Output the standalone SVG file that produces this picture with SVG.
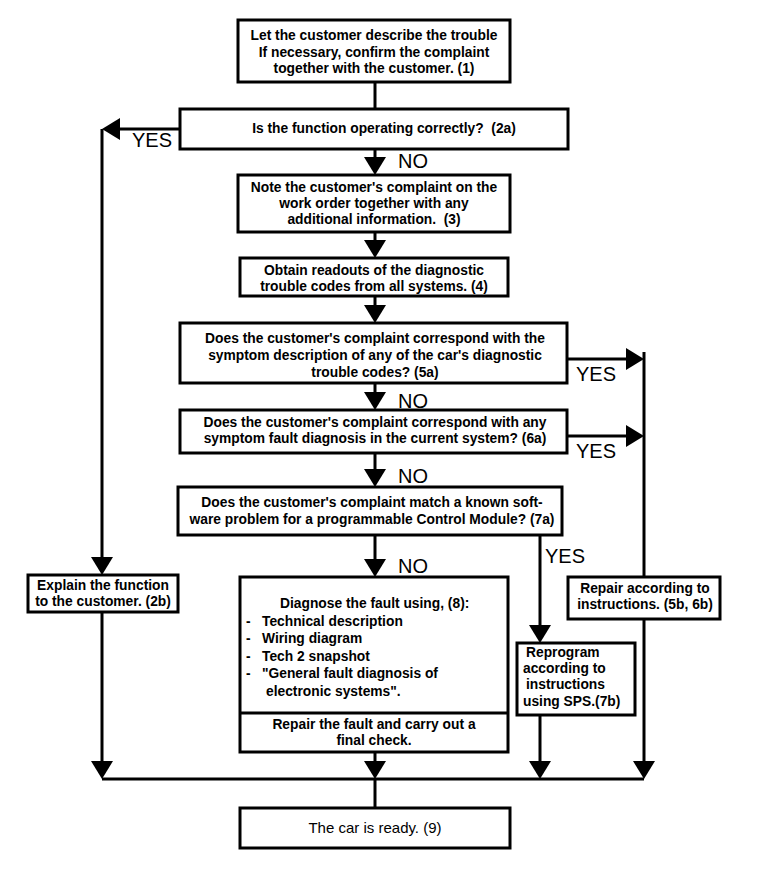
<svg xmlns="http://www.w3.org/2000/svg" width="768" height="876" viewBox="0 0 768 876">
<defs>
<style>
.box{fill:#fff;stroke:#000;stroke-width:3}
.ln{fill:none;stroke:#000;stroke-width:3}
.ar{fill:none;stroke:#000;stroke-width:3;marker-end:url(#ah)}
.t{font-family:"Liberation Sans",Arial,sans-serif;font-size:13.8px;font-weight:bold;fill:#000}
.c{text-anchor:middle}
.lab{font-family:"Liberation Sans",Arial,sans-serif;font-size:20px;fill:#000}
.r{font-family:"Liberation Sans",Arial,sans-serif;font-size:15px;fill:#000;text-anchor:middle}
</style>
<marker id="ah" markerUnits="userSpaceOnUse" markerWidth="18" markerHeight="22" viewBox="0 0 18 22" refX="12" refY="11" orient="auto">
<path d="M0,0 L18,11 L0,22 z" fill="#000"/>
</marker>
</defs>
<rect width="768" height="876" fill="#fff"/>

<g id="connectors">
<path class="ln" d="M375,82 V108"/>
<path class="ar" d="M180,129 H108"/>
<path class="ar" d="M102,129 V569"/>
<path class="ar" d="M375,150 V169"/>
<path class="ar" d="M375,232 V252"/>
<path class="ar" d="M375,296 V317"/>
<path class="ar" d="M567,359 H638"/>
<path class="ln" d="M644,352 V577"/>
<path class="ar" d="M375,383 V404"/>
<path class="ar" d="M567,436 H638"/>
<path class="ar" d="M375,453 V481"/>
<path class="ar" d="M375,535 V571"/>
<path class="ar" d="M540,535 V637"/>
<path class="ar" d="M102,612 V773"/>
<path class="ar" d="M375,752 V773"/>
<path class="ar" d="M540,715 V773"/>
<path class="ar" d="M644,619 V773"/>
<path class="ln" d="M102,779 H644"/>
<path class="ln" d="M375,779 V808"/>
<text class="lab" x="132" y="147">YES</text>
<text class="lab" x="398" y="168">NO</text>
<text class="lab" x="576" y="381">YES</text>
<text class="lab" x="398" y="408">NO</text>
<text class="lab" x="576" y="458">YES</text>
<text class="lab" x="398" y="483">NO</text>
<text class="lab" x="545" y="563">YES</text>
<text class="lab" x="398" y="573">NO</text>
</g>

<g id="n1">
<rect class="box" x="238" y="20" width="272" height="62"/>
<text class="t c" x="374" y="40">Let the customer describe the trouble</text>
<text class="t c" x="374" y="57">If necessary, confirm the complaint</text>
<text class="t c" x="374" y="73">together with the customer. (1)</text>
</g>

<g id="n2a">
<rect class="box" x="180" y="109" width="388" height="40"/>
<text class="t c" x="384" y="133">Is the function operating correctly?&#160; (2a)</text>
</g>

<g id="n3">
<rect class="box" x="238" y="175" width="272" height="57"/>
<text class="t c" x="374" y="192">Note the customer's complaint on the</text>
<text class="t c" x="374" y="208">work order together with any</text>
<text class="t c" x="374" y="224">additional information.&#160; (3)</text>
</g>

<g id="n4">
<rect class="box" x="240" y="258" width="268" height="38"/>
<text class="t c" x="374" y="275">Obtain readouts of the diagnostic</text>
<text class="t c" x="374" y="291">trouble codes from all systems. (4)</text>
</g>

<g id="n5a">
<rect class="box" x="180" y="323" width="387" height="60"/>
<text class="t c" x="375" y="343">Does the customer's complaint correspond with the</text>
<text class="t c" x="375" y="360">symptom description of any of the car's diagnostic</text>
<text class="t c" x="375" y="377">trouble codes? (5a)</text>
</g>

<g id="n6a">
<rect class="box" x="180" y="410" width="387" height="43"/>
<text class="t c" x="375" y="427">Does the customer's complaint correspond with any</text>
<text class="t c" x="375" y="443">symptom fault diagnosis in the current system? (6a)</text>
</g>

<g id="n7a">
<rect class="box" x="178" y="487" width="384" height="48"/>
<text class="t c" x="372" y="507">Does the customer's complaint match a known soft-</text>
<text class="t c" x="372" y="524">ware problem for a programmable Control Module? (7a)</text>
</g>

<g id="n2b">
<rect class="box" x="28" y="575" width="150" height="37"/>
<text class="t c" x="103" y="590">Explain the function</text>
<text class="t c" x="103" y="606">to the customer. (2b)</text>
</g>

<g id="n5b6b">
<rect class="box" x="568" y="577" width="152" height="42"/>
<text class="t c" x="645" y="593">Repair according to</text>
<text class="t c" x="645" y="609">instructions. (5b, 6b)</text>
</g>

<g id="n8">
<rect class="box" x="240" y="577" width="268" height="175"/>
<line class="ln" x1="240" y1="713" x2="508" y2="713"/>
<text class="t" x="280" y="608">Diagnose the fault using, (8):</text>
<text class="t" x="246" y="626">-</text><text class="t" x="262" y="626">Technical description</text>
<text class="t" x="246" y="643">-</text><text class="t" x="262" y="643">Wiring diagram</text>
<text class="t" x="246" y="661">-</text><text class="t" x="262" y="661">Tech 2 snapshot</text>
<text class="t" x="246" y="678">-</text><text class="t" x="262" y="678">"General fault diagnosis of</text>
<text class="t" x="266" y="696">electronic systems".</text>
<text class="t c" x="374" y="729">Repair the fault and carry out a</text>
<text class="t c" x="374" y="745">final check.</text>
</g>

<g id="n7b">
<rect class="box" x="517" y="643" width="118" height="72"/>
<text class="t" x="526" y="657">Reprogram</text>
<text class="t" x="523" y="673">according to</text>
<text class="t" x="526" y="689">instructions</text>
<text class="t" x="523" y="706">using SPS.(7b)</text>
</g>

<g id="n9">
<rect class="box" x="240" y="808" width="270" height="40"/>
<text class="r" x="375" y="833">The car is ready. (9)</text>
</g>
</svg>
